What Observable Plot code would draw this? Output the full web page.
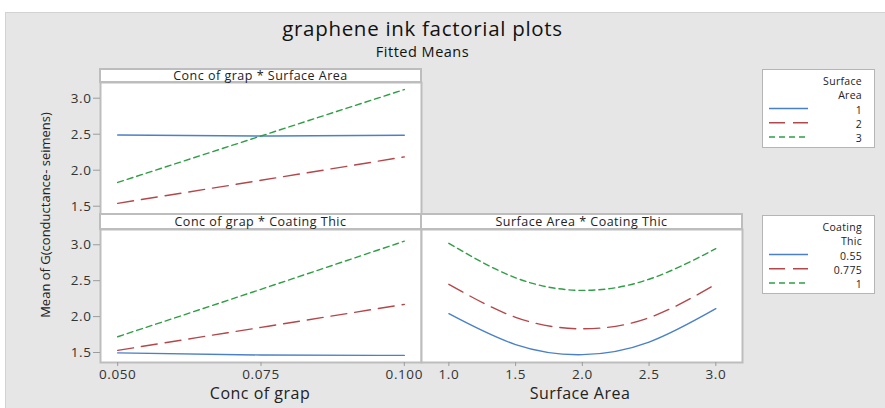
<!DOCTYPE html>
<html><head><meta charset="utf-8">
<script src="https://cdn.jsdelivr.net/npm/d3@7"></script>
<script src="https://cdn.jsdelivr.net/npm/@observablehq/plot@0.6"></script>
<style>
body{margin:0;background:#fff;font-family:"Open Sans",sans-serif;}
#root{position:relative;width:885px;height:408px;overflow:hidden;background:#fff;}
.abs{position:absolute;}
#bg{left:5px;top:12px;width:880px;height:396px;background:#e6e6e6;border-top:1px solid #d2d2d2;border-left:1px solid #d2d2d2;box-sizing:border-box;}
.hdr{background:#fff;border:2px solid #bdbdbd;box-sizing:border-box;font-size:12.5px;letter-spacing:0.5px;color:#222;text-align:center;white-space:nowrap;}
.lg{background:#fff;border:1.5px solid #b5b5b5;box-sizing:border-box;}
.lt{position:absolute;right:12px;font-size:10.5px;line-height:10px;letter-spacing:0.3px;color:#222;white-space:nowrap;transform:translateY(-50%);}
svg.plot{position:absolute;overflow:visible;}
</style></head>
<body><div id="root"><div id="bg" class="abs"></div></div>
<script>
// ---- data ----
const concLevels = [0.05, 0.075, 0.1];
const concTicks = [0.05, 0.075, 0.1];
const saLevels = ["1", "2", "3"];
const coatLevels = ["0.55", "0.775", "1"];
const saGrid = [1, 1.5, 2, 2.5, 3];
const saTicks = [1, 1.5, 2, 2.5, 3];
const yTicks = [1.5, 2, 2.5, 3];

// Conc of grap * Surface Area (rows: SA = 1, 2, 3)
const concSA1 = [2.49, 2.475, 2.485];
const concSA2 = [1.54, 1.86, 2.185];
const concSA3 = [1.83, 2.475, 3.12];
// Conc of grap * Coating Thic (rows: 0.55, 0.775, 1)
const concC055 = [1.495, 1.465, 1.46];
const concC0775 = [1.53, 1.85, 2.17];
const concC1 = [1.72, 2.38, 3.05];
// Surface Area * Coating Thic (read along saGrid)
const saC055 = [2.04, 1.61, 1.47, 1.645, 2.11];
const saC0775 = [2.45, 1.99, 1.83, 1.985, 2.45];
const saC1 = [3.02, 2.54, 2.365, 2.52, 2.945];

// ---- styles ----
const seriesColors = ["#4a80c8", "#b5474a", "#2f9e45"];
const seriesDashes = [null, "16,8", "6,4"];
const axisFont = "Open Sans";

const root = document.getElementById("root");
function el(tag, cls, css, text){const e=document.createElement(tag); if(cls) e.className=cls; Object.assign(e.style, css||{}); if(text!=null) e.textContent=text; root.appendChild(e); return e;}

function seriesMarks(xs, series){
  return series.map((ys,i)=>Plot.line(xs.map((x,j)=>({x, y: ys[j]})), {
    x:"x", y:"y", stroke: seriesColors[i], strokeWidth: 1.4,
    strokeDasharray: seriesDashes[i] || undefined, curve:"natural"}));
}

function panel({left, top, width, height, mt, mb, ml, mr, xDomain, yDomain, xTicks, xFmt, showX, showY, series, xs}){
  const marks = [Plot.frame({fill:"white", stroke:"#bdbdbd", strokeWidth:2})];
  marks.push(...seriesMarks(xs, series));
  if(showY) marks.push(Plot.axisY({ticks: yTicks, tickFormat: d3.format(".1f"), tickSize: 7, tickPadding: 2, label: null, fontSize: 13.5, stroke:"#9c9c9c", fill:"#333"}));
  if(showX) marks.push(Plot.axisX({ticks: xTicks, tickFormat: d3.format(xFmt), tickSize: 4, tickPadding: 3, label: null, fontSize: 13.5, stroke:"#9c9c9c", fill:"#333"}));
  const svg = Plot.plot({
    width, height, marginTop: mt, marginBottom: mb, marginLeft: ml, marginRight: mr,
    style:{background:"transparent", fontFamily: axisFont, overflow:"visible", letterSpacing:"0.6px"},
    x:{domain:xDomain, axis:null}, y:{domain:yDomain, axis:null},
    marks
  });
  svg.classList.add("plot");
  svg.style.left = left+"px"; svg.style.top = top+"px";
  root.appendChild(svg);
}

// Title
el("div","abs",{left:"0",width:"845px",top:"18px",lineHeight:"20px",textAlign:"center",fontSize:"20.5px",fontWeight:"400",color:"#111",letterSpacing:"0.7px"},"graphene ink factorial plots");
el("div","abs",{left:"0",width:"845px",top:"45px",lineHeight:"14px",textAlign:"center",fontSize:"14.5px",fontWeight:"400",color:"#111",letterSpacing:"0.5px"},"Fitted Means");

// Panels
panel({left:0, top:60, width:425, height:154, mt:22, mb:0, ml:100, mr:4,
  xDomain:[0.047,0.103], yDomain:[1.385,3.218], showY:true, showX:false,
  xs: concLevels, series:[concSA1, concSA2, concSA3]});
panel({left:0, top:210, width:425, height:198, mt:19, mb:46, ml:100, mr:4,
  xDomain:[0.047,0.103], yDomain:[1.361,3.2125], xTicks: concTicks, xFmt:".3f", showY:true, showX:true,
  xs: concLevels, series:[concC055, concC0775, concC1]});
panel({left:417, top:210, width:329, height:198, mt:19, mb:46, ml:4, mr:4,
  xDomain:[0.795,3.2], yDomain:[1.361,3.2125], xTicks: saTicks, xFmt:".1f", showY:false, showX:true,
  xs: saGrid, series:[saC055, saC0775, saC1]});

// Headers
el("div","abs hdr",{left:"99px",top:"68px",width:"323px",height:"15px",lineHeight:"11px"},"Conc of grap * Surface Area");
el("div","abs hdr",{left:"99px",top:"213px",width:"323px",height:"17px",lineHeight:"13px"},"Conc of grap * Coating Thic");
el("div","abs hdr",{left:"420px",top:"213px",width:"323px",height:"17px",lineHeight:"13px"},"Surface Area * Coating Thic");

// Axis titles
el("div","abs",{left:"160px",width:"200px",top:"383px",lineHeight:"20px",textAlign:"center",fontSize:"16px",fontWeight:"400",color:"#222",letterSpacing:"0.5px",whiteSpace:"nowrap"},"Conc of grap");
el("div","abs",{left:"480px",width:"200px",top:"383px",lineHeight:"20px",textAlign:"center",fontSize:"16px",fontWeight:"400",color:"#222",letterSpacing:"0.5px",whiteSpace:"nowrap"},"Surface Area");
el("div","abs",{left:"45px",top:"215px",fontSize:"13px",color:"#222",whiteSpace:"nowrap",transform:"translate(-50%,-50%) rotate(-90deg)"},"Mean of G(conductance- seimens)");

// Legends
function legend(top, titleLines, labels){
  const box = el("div","abs lg",{left:"762px",top:top+"px",width:"113px",height:"79px"});
  const rowsY = [11, 25.25, 39.5, 53.75, 68];
  titleLines.forEach((t,i)=>{const d=document.createElement("div"); d.className="lt"; d.style.top=rowsY[i]+"px"; d.textContent=t; box.appendChild(d);});
  const ns="http://www.w3.org/2000/svg";
  const s=document.createElementNS(ns,"svg"); s.setAttribute("width","113"); s.setAttribute("height","79");
  s.style.position="absolute"; s.style.left="-1.5px"; s.style.top="-1.5px";
  labels.forEach((lab,i)=>{
    const y = rowsY[i+2];
    const l=document.createElementNS(ns,"line");
    l.setAttribute("x1","7"); l.setAttribute("x2","46"); l.setAttribute("y1",y); l.setAttribute("y2",y);
    l.setAttribute("stroke",seriesColors[i]); l.setAttribute("stroke-width","1.4");
    if(seriesDashes[i]) l.setAttribute("stroke-dasharray",seriesDashes[i]);
    s.appendChild(l);
    const d=document.createElement("div"); d.className="lt"; d.style.top=y+"px"; d.textContent=lab; box.appendChild(d);
  });
  box.appendChild(s);
}
legend(69, ["Surface","Area"], saLevels);
legend(215, ["Coating","Thic"], coatLevels);
</script>
</body></html>
